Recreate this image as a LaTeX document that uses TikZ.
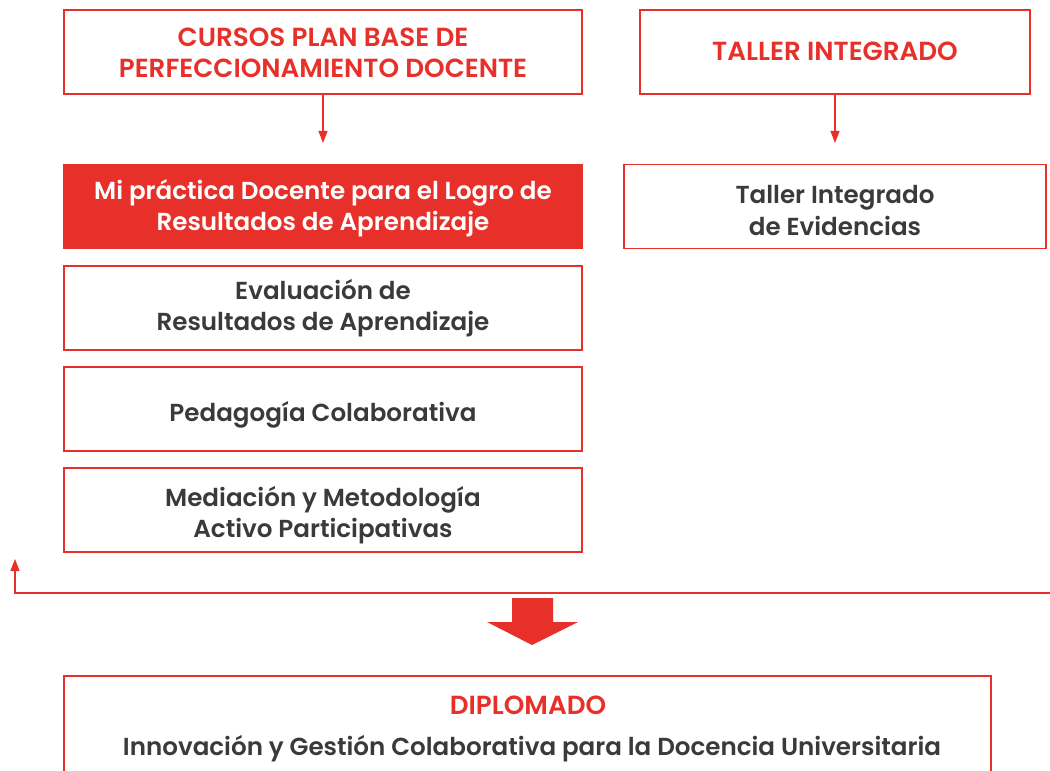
\documentclass[tikz,border=0pt]{standalone}
\usepackage{fontspec}
\setmainfont{Poppins}[UprightFont=* SemiBold, BoldFont=* Bold]
\usetikzlibrary{arrows.meta}
\definecolor{cred}{HTML}{E8302A}
\definecolor{cgray}{HTML}{3A3A3A}
\begin{document}
\begin{tikzpicture}[x=1pt,y=-1pt,
  box/.style={draw=cred,line width=1.1pt,minimum width=518pt,minimum height=84pt,inner sep=0pt},
  fbox/.style={box,fill=cred},
  txt/.style={align=center,inner sep=0pt,font=\fontsize{24.6}{31.5}\selectfont,text=cgray},
  htxt/.style={txt,text=cred,font=\fontsize{26.2}{31.5}\selectfont},
  wtxt/.style={txt,text=white},
  conn/.style={draw=cred,line width=1.1pt,-{Triangle[width=9pt,length=12pt]}}
]
\useasboundingbox (0,0) rectangle (1050,771);
\node[box] (cursos) at (323,52) {};
\node[box,minimum width=390pt] (taller) at (835,52) {};
\node[fbox] (mi) at (323,206.5) {};
\node[box,minimum width=422pt] (evid) at (835,206.5) {};
\node[box] (eval) at (323,308) {};
\node[box] (peda) at (323,409) {};
\node[box] (medi) at (323,510) {};
\node[htxt] (cursos-t) at ([yshift=-1pt]cursos.center) {CURSOS PLAN BASE DE\\PERFECCIONAMIENTO DOCENTE};
\node[htxt] (taller-t) at ([yshift=1pt]taller.center) {TALLER INTEGRADO};
\node[wtxt] (mi-t) at ([yshift=-2pt]mi.center) {Mi práctica Docente para el Logro de\\Resultados de Aprendizaje};
\node[txt] (evid-t) at ([yshift=-4pt]evid.center) {Taller Integrado\\de Evidencias};
\node[txt] (eval-t) at (eval.center) {Evaluación de\\Resultados de Aprendizaje};
\node[txt] (peda-t) at ([yshift=-6pt]peda.center) {Pedagogía Colaborativa};
\node[txt] (medi-t) at ([yshift=-5pt]medi.center) {Mediación y Metodología\\Activo Participativas};
\draw[conn,shorten >=21pt] (cursos.south) -- (mi.north);
\draw[conn,shorten >=21pt] (taller.south) -- (evid.north);
\coordinate (fr) at (1052,593);
\coordinate (fl) at (15,593);
\coordinate (ft) at (15,559);
\draw[conn] (fr) -- (fl) -- (ft);
\fill[cred] (512,598) -- (553,598) -- (553,622) -- (578,622) -- (532,645) -- (487,622) -- (512,622) -- cycle;
\node[draw=cred,line width=1.1pt,minimum width=927pt,minimum height=140pt,inner sep=0pt] (dipl) at (527.5,746) {};
\node[text=cred,font=\fontsize{26.2}{30}\selectfont] (dtitle) at (528,705) {DIPLOMADO};
\node[text=cgray,font=\fontsize{24.6}{30}\selectfont] (dsub) at (532,749) {Innovación y Gestión Colaborativa para la Docencia Universitaria};
\end{tikzpicture}
\end{document}
